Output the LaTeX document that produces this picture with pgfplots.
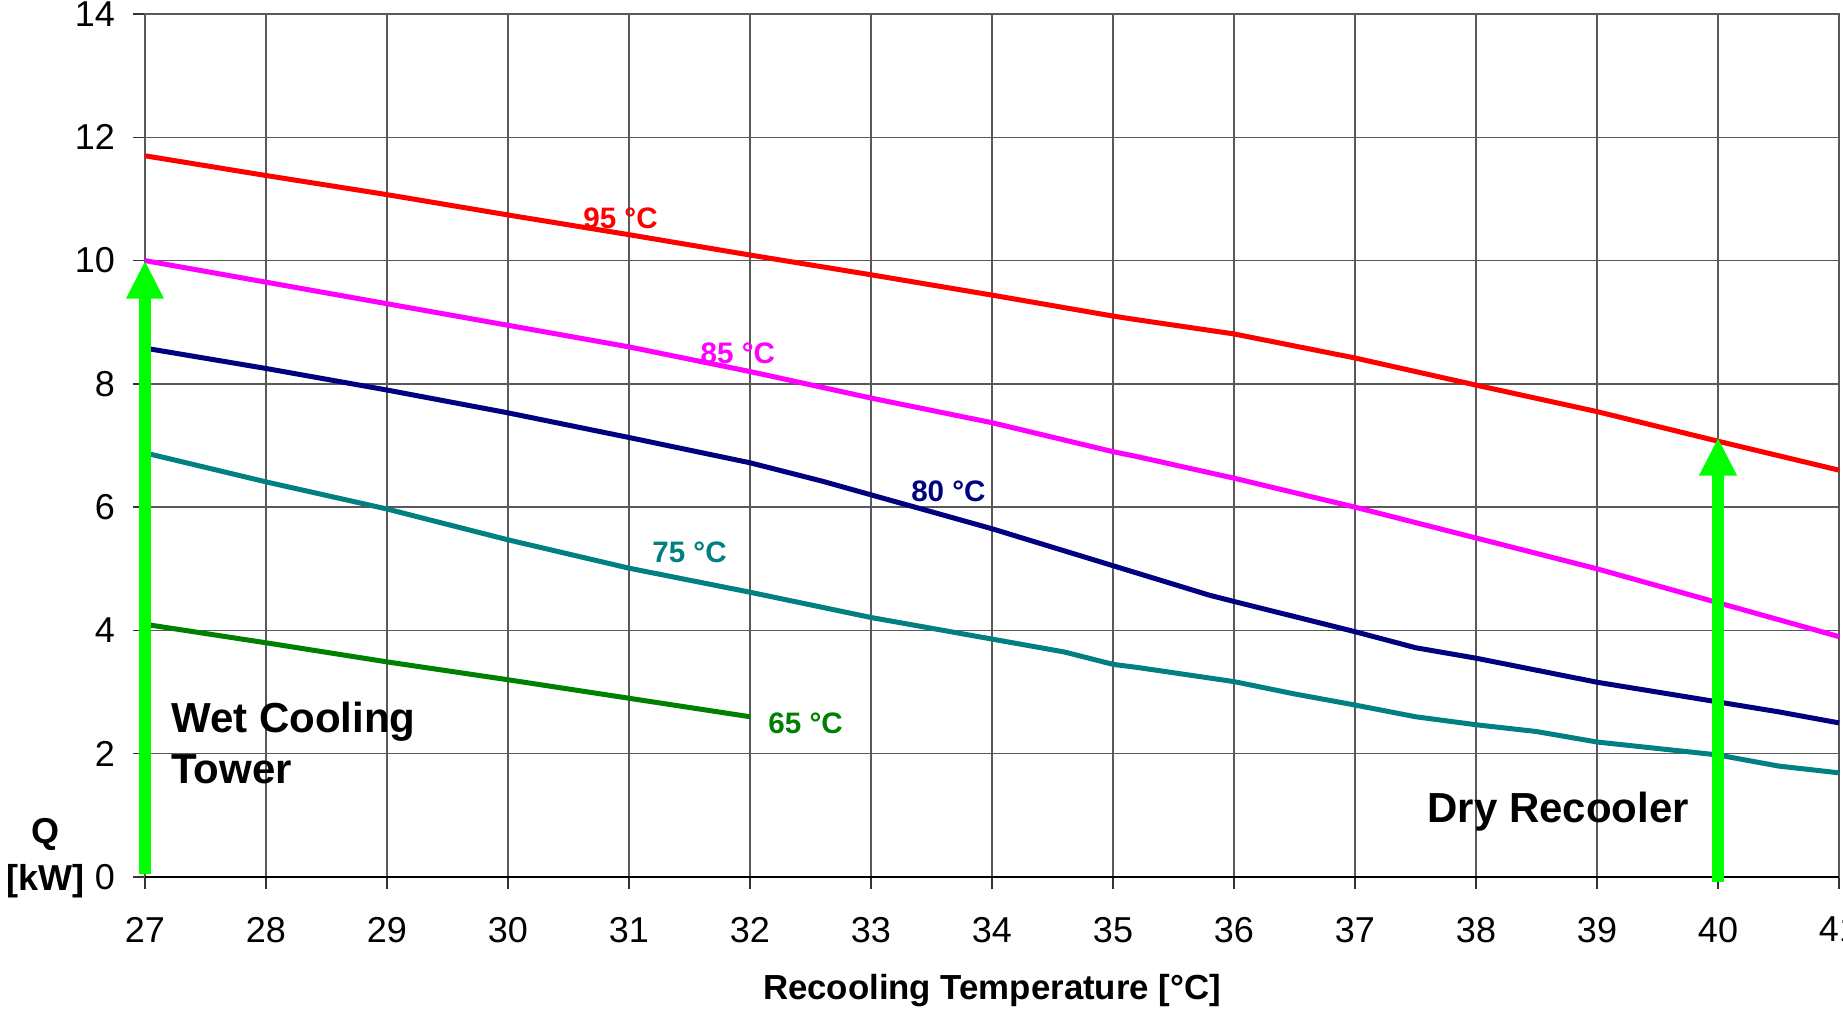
\documentclass[border=0pt]{standalone}
\usepackage{fontspec}
\setmainfont{Liberation Sans}
\usepackage{pgfplots}
\pgfplotsset{compat=1.18}
\usetikzlibrary{arrows.meta}
\definecolor{c95}{HTML}{FF0000}
\definecolor{c85}{HTML}{FF00FF}
\definecolor{c80}{HTML}{000080}
\definecolor{c75}{HTML}{008080}
\definecolor{c65}{HTML}{008000}
\definecolor{arrowgreen}{HTML}{00FF00}
\begin{document}
\begin{tikzpicture}
\begin{axis}[
  scale only axis,
  width=423.5pt, height=215.75pt,
  xmin=27, xmax=41, ymin=0, ymax=14,
  xtick={27,...,41}, ytick={0,2,...,14},
  grid=major,
  major grid style={black!65, line width=0.35pt},
  axis line style={black!65, line width=0.35pt},
  tick style={black!80, line width=0.35pt},
  tick align=outside, major tick length=3pt,
  xtick pos=left, ytick pos=left,
  ticklabel style={font=\fontsize{9}{10.8}\selectfont},
  /pgf/number format/assume math mode=true,
  xticklabel style={yshift=-3.5pt},
  yticklabel style={xshift=-1pt},
  xlabel={\bfseries Recooling Temperature [°C]},
  xlabel style={at={(rel axis cs:0.5,0)}, anchor=center, yshift=-28.4pt,
    font=\fontsize{8.7}{11}\selectfont},
  ylabel={\bfseries Q\\\bfseries [kW]},
  ylabel style={at={(rel axis cs:-0.059,0.022)}, anchor=center, rotate=-90,
    align=center, font=\fontsize{9}{11.75}\selectfont},
  clip=false,
  every axis plot/.append style={line width=1.25pt},
]
\coordinate (sw) at (rel axis cs:0,0);
\coordinate (ne) at (rel axis cs:1,1);
\draw[black, line width=0.5pt] (rel axis cs:0,0) -- (rel axis cs:1,0);

% 95 °C
\addplot[c95] coordinates {(27,11.70) (28,11.38) (29,11.07) (30,10.74) (31,10.42) (32,10.09) (33,9.77) (34,9.44) (35,9.10) (35.2,9.04) (36,8.81) (37,8.42) (38,7.98) (39,7.55) (40,7.07) (41,6.60)};
% 85 °C
\addplot[c85] coordinates {(27,10.00) (28,9.65) (29,9.30) (30,8.95) (31,8.60) (32,8.20) (33,7.77) (34,7.37) (35,6.90) (35.2,6.82) (36,6.47) (37,6.00) (38,5.50) (39,5.00) (40,4.45) (41,3.90)};
% 80 °C
\addplot[c80] coordinates {(27,8.58) (28,8.25) (29,7.90) (30,7.53) (31,7.13) (32,6.72) (32.6,6.42) (33,6.20) (34,5.65) (35,5.05) (35.8,4.57) (36,4.47) (37,3.98) (37.5,3.72) (38,3.55) (39,3.16) (40,2.84) (40.5,2.68) (41,2.50)};
% 75 °C
\addplot[c75] coordinates {(27,6.88) (28,6.41) (29,5.97) (30,5.47) (31,5.01) (32,4.62) (33,4.21) (34,3.86) (34.6,3.65) (35,3.45) (35.2,3.40) (36,3.17) (36.5,2.97) (37,2.79) (37.5,2.60) (38,2.47) (38.5,2.36) (39,2.19) (40,1.98) (40.5,1.80) (41,1.69)};
% 65 °C
\addplot[c65] coordinates {(27,4.10) (28,3.80) (29,3.49) (30,3.20) (31,2.90) (32,2.60)};

% arrows
\addplot[arrowgreen, line width=3pt, -{Triangle[width=8.75pt,length=9.5pt]}] coordinates {(27,0.05) (27,10.0)};
\addplot[arrowgreen, line width=3pt, -{Triangle[width=8.75pt,length=9.5pt]}] coordinates {(40,-0.08) (40,7.13)};

\begin{scope}[font=\fontsize{7.4}{8}\selectfont\bfseries]
\node[c95] at (axis cs:30.93,10.69) {95 °C};
\node[c85] at (axis cs:31.90,8.50) {85 °C};
\node[c80] at (axis cs:33.64,6.25) {80 °C};
\node[c75] at (axis cs:31.50,5.26) {75 °C};
\node[c65] at (axis cs:32.46,2.50) {65 °C};
\end{scope}
\node[anchor=west, align=left, inner sep=0pt, font=\fontsize{10.5}{12.75}\selectfont\bfseries]
  at (axis cs:27.21,2.17) {Wet Cooling\\Tower};
\node[font=\fontsize{10.5}{12.75}\selectfont\bfseries] at (axis cs:38.68,1.06) {Dry Recooler};
\end{axis}
\pgfresetboundingbox
\path ([shift={(-36.25pt,-33.25pt)}]sw) rectangle ([shift={(1pt,3.5pt)}]ne);
\end{tikzpicture}
\end{document}
